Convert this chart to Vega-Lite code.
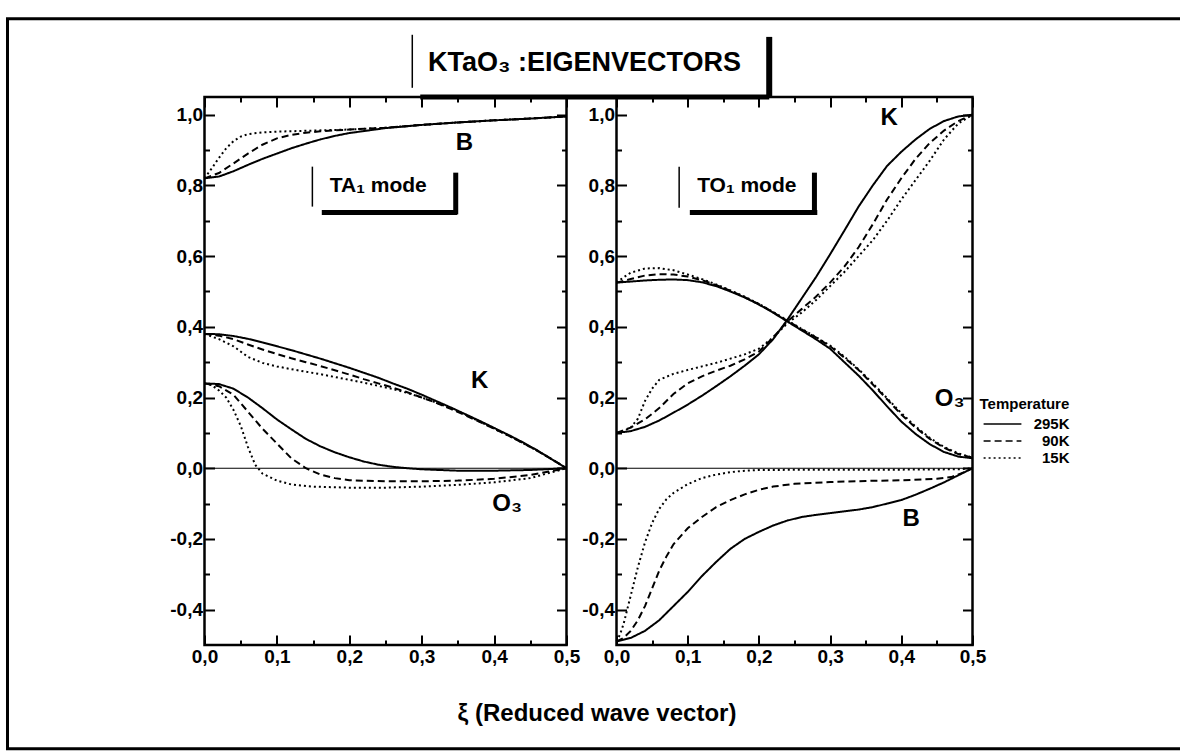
{
  "$schema": "https://vega.github.io/schema/vega-lite/v6.json",
  "padding": {"left": 4.5, "top": 16, "right": 0, "bottom": 0},
  "background": "white",
  "config": {
    "font": "Liberation Sans",
    "view": {"stroke": "black", "strokeWidth": 2.5},
    "axis": {"domain": false, "grid": false, "labelFont": "Liberation Sans", "labelFontWeight": "bold", "labelFontSize": 19, "labelColor": "black", "tickColor": "black", "tickWidth": 2, "labelFlush": false, "labelOverlap": false, "labelBound": false, "title": null}
  },
  "datasets": {
    "ta": [
      {"c":"B","T":"295K","x":0,"y":0.82},{"c":"B","T":"295K","x":0.02,"y":0.825},{"c":"B","T":"295K","x":0.04,"y":0.84},{"c":"B","T":"295K","x":0.06,"y":0.858},{"c":"B","T":"295K","x":0.08,"y":0.875},{"c":"B","T":"295K","x":0.1,"y":0.89},{"c":"B","T":"295K","x":0.12,"y":0.905},{"c":"B","T":"295K","x":0.14,"y":0.918},{"c":"B","T":"295K","x":0.16,"y":0.93},{"c":"B","T":"295K","x":0.18,"y":0.94},{"c":"B","T":"295K","x":0.2,"y":0.948},{"c":"B","T":"295K","x":0.25,"y":0.962},{"c":"B","T":"295K","x":0.3,"y":0.971},{"c":"B","T":"295K","x":0.35,"y":0.978},{"c":"B","T":"295K","x":0.4,"y":0.984},{"c":"B","T":"295K","x":0.45,"y":0.989},{"c":"B","T":"295K","x":0.5,"y":0.995},
      {"c":"B","T":"90K","x":0,"y":0.82},{"c":"B","T":"90K","x":0.02,"y":0.835},{"c":"B","T":"90K","x":0.04,"y":0.862},{"c":"B","T":"90K","x":0.06,"y":0.89},{"c":"B","T":"90K","x":0.08,"y":0.915},{"c":"B","T":"90K","x":0.1,"y":0.933},{"c":"B","T":"90K","x":0.12,"y":0.943},{"c":"B","T":"90K","x":0.14,"y":0.949},{"c":"B","T":"90K","x":0.16,"y":0.953},{"c":"B","T":"90K","x":0.2,"y":0.958},{"c":"B","T":"90K","x":0.25,"y":0.963},{"c":"B","T":"90K","x":0.3,"y":0.971},{"c":"B","T":"90K","x":0.35,"y":0.978},{"c":"B","T":"90K","x":0.4,"y":0.984},{"c":"B","T":"90K","x":0.45,"y":0.989},{"c":"B","T":"90K","x":0.5,"y":0.995},
      {"c":"B","T":"15K","x":0,"y":0.82},{"c":"B","T":"15K","x":0.01,"y":0.848},{"c":"B","T":"15K","x":0.02,"y":0.878},{"c":"B","T":"15K","x":0.03,"y":0.905},{"c":"B","T":"15K","x":0.04,"y":0.925},{"c":"B","T":"15K","x":0.05,"y":0.938},{"c":"B","T":"15K","x":0.06,"y":0.945},{"c":"B","T":"15K","x":0.08,"y":0.95},{"c":"B","T":"15K","x":0.1,"y":0.952},{"c":"B","T":"15K","x":0.15,"y":0.955},{"c":"B","T":"15K","x":0.2,"y":0.958},{"c":"B","T":"15K","x":0.25,"y":0.963},{"c":"B","T":"15K","x":0.3,"y":0.971},{"c":"B","T":"15K","x":0.35,"y":0.978},{"c":"B","T":"15K","x":0.4,"y":0.984},{"c":"B","T":"15K","x":0.45,"y":0.989},{"c":"B","T":"15K","x":0.5,"y":0.995},
      {"c":"K","T":"295K","x":0,"y":0.38},{"c":"K","T":"295K","x":0.02,"y":0.379},{"c":"K","T":"295K","x":0.04,"y":0.374},{"c":"K","T":"295K","x":0.06,"y":0.366},{"c":"K","T":"295K","x":0.08,"y":0.356},{"c":"K","T":"295K","x":0.1,"y":0.345},{"c":"K","T":"295K","x":0.12,"y":0.334},{"c":"K","T":"295K","x":0.14,"y":0.322},{"c":"K","T":"295K","x":0.16,"y":0.31},{"c":"K","T":"295K","x":0.18,"y":0.297},{"c":"K","T":"295K","x":0.2,"y":0.284},{"c":"K","T":"295K","x":0.22,"y":0.27},{"c":"K","T":"295K","x":0.24,"y":0.256},{"c":"K","T":"295K","x":0.26,"y":0.24},{"c":"K","T":"295K","x":0.28,"y":0.225},{"c":"K","T":"295K","x":0.3,"y":0.208},{"c":"K","T":"295K","x":0.32,"y":0.19},{"c":"K","T":"295K","x":0.34,"y":0.172},{"c":"K","T":"295K","x":0.36,"y":0.153},{"c":"K","T":"295K","x":0.38,"y":0.134},{"c":"K","T":"295K","x":0.4,"y":0.114},{"c":"K","T":"295K","x":0.42,"y":0.094},{"c":"K","T":"295K","x":0.44,"y":0.073},{"c":"K","T":"295K","x":0.46,"y":0.05},{"c":"K","T":"295K","x":0.48,"y":0.025},{"c":"K","T":"295K","x":0.5,"y":0},
      {"c":"K","T":"90K","x":0,"y":0.38},{"c":"K","T":"90K","x":0.02,"y":0.375},{"c":"K","T":"90K","x":0.04,"y":0.365},{"c":"K","T":"90K","x":0.06,"y":0.35},{"c":"K","T":"90K","x":0.08,"y":0.336},{"c":"K","T":"90K","x":0.1,"y":0.323},{"c":"K","T":"90K","x":0.12,"y":0.311},{"c":"K","T":"90K","x":0.14,"y":0.3},{"c":"K","T":"90K","x":0.16,"y":0.289},{"c":"K","T":"90K","x":0.18,"y":0.277},{"c":"K","T":"90K","x":0.2,"y":0.265},{"c":"K","T":"90K","x":0.22,"y":0.252},{"c":"K","T":"90K","x":0.24,"y":0.24},{"c":"K","T":"90K","x":0.26,"y":0.228},{"c":"K","T":"90K","x":0.28,"y":0.215},{"c":"K","T":"90K","x":0.3,"y":0.2},{"c":"K","T":"90K","x":0.32,"y":0.185},{"c":"K","T":"90K","x":0.34,"y":0.168},{"c":"K","T":"90K","x":0.36,"y":0.15},{"c":"K","T":"90K","x":0.38,"y":0.131},{"c":"K","T":"90K","x":0.4,"y":0.112},{"c":"K","T":"90K","x":0.42,"y":0.092},{"c":"K","T":"90K","x":0.44,"y":0.071},{"c":"K","T":"90K","x":0.46,"y":0.049},{"c":"K","T":"90K","x":0.48,"y":0.025},{"c":"K","T":"90K","x":0.5,"y":0},
      {"c":"K","T":"15K","x":0,"y":0.38},{"c":"K","T":"15K","x":0.02,"y":0.365},{"c":"K","T":"15K","x":0.04,"y":0.345},{"c":"K","T":"15K","x":0.06,"y":0.315},{"c":"K","T":"15K","x":0.08,"y":0.298},{"c":"K","T":"15K","x":0.1,"y":0.288},{"c":"K","T":"15K","x":0.12,"y":0.28},{"c":"K","T":"15K","x":0.14,"y":0.273},{"c":"K","T":"15K","x":0.16,"y":0.266},{"c":"K","T":"15K","x":0.18,"y":0.258},{"c":"K","T":"15K","x":0.2,"y":0.25},{"c":"K","T":"15K","x":0.22,"y":0.242},{"c":"K","T":"15K","x":0.24,"y":0.233},{"c":"K","T":"15K","x":0.26,"y":0.224},{"c":"K","T":"15K","x":0.28,"y":0.213},{"c":"K","T":"15K","x":0.3,"y":0.2},{"c":"K","T":"15K","x":0.32,"y":0.186},{"c":"K","T":"15K","x":0.34,"y":0.17},{"c":"K","T":"15K","x":0.36,"y":0.152},{"c":"K","T":"15K","x":0.38,"y":0.132},{"c":"K","T":"15K","x":0.4,"y":0.112},{"c":"K","T":"15K","x":0.42,"y":0.092},{"c":"K","T":"15K","x":0.44,"y":0.071},{"c":"K","T":"15K","x":0.46,"y":0.049},{"c":"K","T":"15K","x":0.48,"y":0.025},{"c":"K","T":"15K","x":0.5,"y":0},
      {"c":"O","T":"295K","x":0,"y":0.24},{"c":"O","T":"295K","x":0.02,"y":0.238},{"c":"O","T":"295K","x":0.04,"y":0.225},{"c":"O","T":"295K","x":0.06,"y":0.2},{"c":"O","T":"295K","x":0.08,"y":0.17},{"c":"O","T":"295K","x":0.1,"y":0.138},{"c":"O","T":"295K","x":0.12,"y":0.11},{"c":"O","T":"295K","x":0.14,"y":0.083},{"c":"O","T":"295K","x":0.16,"y":0.062},{"c":"O","T":"295K","x":0.18,"y":0.045},{"c":"O","T":"295K","x":0.2,"y":0.031},{"c":"O","T":"295K","x":0.22,"y":0.019},{"c":"O","T":"295K","x":0.24,"y":0.01},{"c":"O","T":"295K","x":0.26,"y":0.004},{"c":"O","T":"295K","x":0.28,"y":0},{"c":"O","T":"295K","x":0.3,"y":-0.003},{"c":"O","T":"295K","x":0.35,"y":-0.007},{"c":"O","T":"295K","x":0.4,"y":-0.007},{"c":"O","T":"295K","x":0.45,"y":-0.005},{"c":"O","T":"295K","x":0.5,"y":0},
      {"c":"O","T":"90K","x":0,"y":0.24},{"c":"O","T":"90K","x":0.02,"y":0.232},{"c":"O","T":"90K","x":0.04,"y":0.208},{"c":"O","T":"90K","x":0.06,"y":0.16},{"c":"O","T":"90K","x":0.08,"y":0.112},{"c":"O","T":"90K","x":0.1,"y":0.07},{"c":"O","T":"90K","x":0.12,"y":0.028},{"c":"O","T":"90K","x":0.14,"y":0},{"c":"O","T":"90K","x":0.16,"y":-0.018},{"c":"O","T":"90K","x":0.18,"y":-0.028},{"c":"O","T":"90K","x":0.2,"y":-0.034},{"c":"O","T":"90K","x":0.25,"y":-0.037},{"c":"O","T":"90K","x":0.3,"y":-0.037},{"c":"O","T":"90K","x":0.35,"y":-0.035},{"c":"O","T":"90K","x":0.4,"y":-0.03},{"c":"O","T":"90K","x":0.45,"y":-0.019},{"c":"O","T":"90K","x":0.5,"y":0},
      {"c":"O","T":"15K","x":0,"y":0.24},{"c":"O","T":"15K","x":0.01,"y":0.235},{"c":"O","T":"15K","x":0.02,"y":0.22},{"c":"O","T":"15K","x":0.03,"y":0.2},{"c":"O","T":"15K","x":0.04,"y":0.165},{"c":"O","T":"15K","x":0.05,"y":0.12},{"c":"O","T":"15K","x":0.06,"y":0.06},{"c":"O","T":"15K","x":0.07,"y":0.01},{"c":"O","T":"15K","x":0.08,"y":-0.015},{"c":"O","T":"15K","x":0.1,"y":-0.035},{"c":"O","T":"15K","x":0.12,"y":-0.046},{"c":"O","T":"15K","x":0.15,"y":-0.052},{"c":"O","T":"15K","x":0.2,"y":-0.055},{"c":"O","T":"15K","x":0.25,"y":-0.055},{"c":"O","T":"15K","x":0.3,"y":-0.052},{"c":"O","T":"15K","x":0.35,"y":-0.047},{"c":"O","T":"15K","x":0.4,"y":-0.04},{"c":"O","T":"15K","x":0.45,"y":-0.028},{"c":"O","T":"15K","x":0.5,"y":0}
    ],
    "to": [
      {"c":"K","T":"295K","x":0,"y":0.1},{"c":"K","T":"295K","x":0.02,"y":0.105},{"c":"K","T":"295K","x":0.04,"y":0.117},{"c":"K","T":"295K","x":0.06,"y":0.135},{"c":"K","T":"295K","x":0.08,"y":0.157},{"c":"K","T":"295K","x":0.1,"y":0.18},{"c":"K","T":"295K","x":0.12,"y":0.205},{"c":"K","T":"295K","x":0.14,"y":0.232},{"c":"K","T":"295K","x":0.16,"y":0.26},{"c":"K","T":"295K","x":0.18,"y":0.29},{"c":"K","T":"295K","x":0.2,"y":0.322},{"c":"K","T":"295K","x":0.22,"y":0.365},{"c":"K","T":"295K","x":0.24,"y":0.42},{"c":"K","T":"295K","x":0.26,"y":0.48},{"c":"K","T":"295K","x":0.28,"y":0.54},{"c":"K","T":"295K","x":0.3,"y":0.605},{"c":"K","T":"295K","x":0.32,"y":0.672},{"c":"K","T":"295K","x":0.34,"y":0.74},{"c":"K","T":"295K","x":0.36,"y":0.8},{"c":"K","T":"295K","x":0.38,"y":0.855},{"c":"K","T":"295K","x":0.4,"y":0.895},{"c":"K","T":"295K","x":0.42,"y":0.93},{"c":"K","T":"295K","x":0.44,"y":0.96},{"c":"K","T":"295K","x":0.46,"y":0.982},{"c":"K","T":"295K","x":0.48,"y":0.995},{"c":"K","T":"295K","x":0.5,"y":1},
      {"c":"K","T":"90K","x":0,"y":0.1},{"c":"K","T":"90K","x":0.02,"y":0.115},{"c":"K","T":"90K","x":0.04,"y":0.138},{"c":"K","T":"90K","x":0.06,"y":0.17},{"c":"K","T":"90K","x":0.08,"y":0.21},{"c":"K","T":"90K","x":0.1,"y":0.24},{"c":"K","T":"90K","x":0.12,"y":0.26},{"c":"K","T":"90K","x":0.14,"y":0.276},{"c":"K","T":"90K","x":0.16,"y":0.29},{"c":"K","T":"90K","x":0.18,"y":0.308},{"c":"K","T":"90K","x":0.2,"y":0.33},{"c":"K","T":"90K","x":0.22,"y":0.37},{"c":"K","T":"90K","x":0.24,"y":0.415},{"c":"K","T":"90K","x":0.26,"y":0.45},{"c":"K","T":"90K","x":0.28,"y":0.485},{"c":"K","T":"90K","x":0.3,"y":0.525},{"c":"K","T":"90K","x":0.32,"y":0.57},{"c":"K","T":"90K","x":0.34,"y":0.625},{"c":"K","T":"90K","x":0.36,"y":0.69},{"c":"K","T":"90K","x":0.38,"y":0.76},{"c":"K","T":"90K","x":0.4,"y":0.82},{"c":"K","T":"90K","x":0.42,"y":0.875},{"c":"K","T":"90K","x":0.44,"y":0.92},{"c":"K","T":"90K","x":0.46,"y":0.955},{"c":"K","T":"90K","x":0.48,"y":0.982},{"c":"K","T":"90K","x":0.5,"y":1},
      {"c":"K","T":"15K","x":0,"y":0.1},{"c":"K","T":"15K","x":0.01,"y":0.105},{"c":"K","T":"15K","x":0.02,"y":0.115},{"c":"K","T":"15K","x":0.03,"y":0.14},{"c":"K","T":"15K","x":0.04,"y":0.19},{"c":"K","T":"15K","x":0.05,"y":0.225},{"c":"K","T":"15K","x":0.06,"y":0.25},{"c":"K","T":"15K","x":0.08,"y":0.267},{"c":"K","T":"15K","x":0.1,"y":0.278},{"c":"K","T":"15K","x":0.12,"y":0.288},{"c":"K","T":"15K","x":0.14,"y":0.298},{"c":"K","T":"15K","x":0.16,"y":0.31},{"c":"K","T":"15K","x":0.18,"y":0.322},{"c":"K","T":"15K","x":0.2,"y":0.338},{"c":"K","T":"15K","x":0.22,"y":0.37},{"c":"K","T":"15K","x":0.24,"y":0.41},{"c":"K","T":"15K","x":0.26,"y":0.44},{"c":"K","T":"15K","x":0.28,"y":0.475},{"c":"K","T":"15K","x":0.3,"y":0.515},{"c":"K","T":"15K","x":0.32,"y":0.555},{"c":"K","T":"15K","x":0.34,"y":0.6},{"c":"K","T":"15K","x":0.36,"y":0.645},{"c":"K","T":"15K","x":0.38,"y":0.7},{"c":"K","T":"15K","x":0.4,"y":0.76},{"c":"K","T":"15K","x":0.42,"y":0.815},{"c":"K","T":"15K","x":0.44,"y":0.87},{"c":"K","T":"15K","x":0.46,"y":0.93},{"c":"K","T":"15K","x":0.48,"y":0.975},{"c":"K","T":"15K","x":0.5,"y":1},
      {"c":"O","T":"295K","x":0,"y":0.525},{"c":"O","T":"295K","x":0.02,"y":0.528},{"c":"O","T":"295K","x":0.04,"y":0.531},{"c":"O","T":"295K","x":0.06,"y":0.533},{"c":"O","T":"295K","x":0.08,"y":0.534},{"c":"O","T":"295K","x":0.1,"y":0.532},{"c":"O","T":"295K","x":0.12,"y":0.526},{"c":"O","T":"295K","x":0.14,"y":0.515},{"c":"O","T":"295K","x":0.16,"y":0.5},{"c":"O","T":"295K","x":0.18,"y":0.483},{"c":"O","T":"295K","x":0.2,"y":0.463},{"c":"O","T":"295K","x":0.22,"y":0.44},{"c":"O","T":"295K","x":0.24,"y":0.415},{"c":"O","T":"295K","x":0.26,"y":0.39},{"c":"O","T":"295K","x":0.28,"y":0.365},{"c":"O","T":"295K","x":0.3,"y":0.338},{"c":"O","T":"295K","x":0.32,"y":0.3},{"c":"O","T":"295K","x":0.34,"y":0.262},{"c":"O","T":"295K","x":0.36,"y":0.22},{"c":"O","T":"295K","x":0.38,"y":0.175},{"c":"O","T":"295K","x":0.4,"y":0.132},{"c":"O","T":"295K","x":0.42,"y":0.097},{"c":"O","T":"295K","x":0.44,"y":0.068},{"c":"O","T":"295K","x":0.46,"y":0.046},{"c":"O","T":"295K","x":0.48,"y":0.033},{"c":"O","T":"295K","x":0.5,"y":0.028},
      {"c":"O","T":"90K","x":0,"y":0.525},{"c":"O","T":"90K","x":0.02,"y":0.535},{"c":"O","T":"90K","x":0.04,"y":0.545},{"c":"O","T":"90K","x":0.06,"y":0.549},{"c":"O","T":"90K","x":0.08,"y":0.548},{"c":"O","T":"90K","x":0.1,"y":0.542},{"c":"O","T":"90K","x":0.12,"y":0.532},{"c":"O","T":"90K","x":0.14,"y":0.518},{"c":"O","T":"90K","x":0.16,"y":0.502},{"c":"O","T":"90K","x":0.18,"y":0.484},{"c":"O","T":"90K","x":0.2,"y":0.464},{"c":"O","T":"90K","x":0.22,"y":0.441},{"c":"O","T":"90K","x":0.24,"y":0.417},{"c":"O","T":"90K","x":0.26,"y":0.393},{"c":"O","T":"90K","x":0.28,"y":0.37},{"c":"O","T":"90K","x":0.3,"y":0.345},{"c":"O","T":"90K","x":0.32,"y":0.313},{"c":"O","T":"90K","x":0.34,"y":0.278},{"c":"O","T":"90K","x":0.36,"y":0.237},{"c":"O","T":"90K","x":0.38,"y":0.195},{"c":"O","T":"90K","x":0.4,"y":0.152},{"c":"O","T":"90K","x":0.42,"y":0.115},{"c":"O","T":"90K","x":0.44,"y":0.083},{"c":"O","T":"90K","x":0.46,"y":0.058},{"c":"O","T":"90K","x":0.48,"y":0.04},{"c":"O","T":"90K","x":0.5,"y":0.03},
      {"c":"O","T":"15K","x":0,"y":0.525},{"c":"O","T":"15K","x":0.01,"y":0.54},{"c":"O","T":"15K","x":0.02,"y":0.553},{"c":"O","T":"15K","x":0.04,"y":0.565},{"c":"O","T":"15K","x":0.06,"y":0.566},{"c":"O","T":"15K","x":0.08,"y":0.56},{"c":"O","T":"15K","x":0.1,"y":0.548},{"c":"O","T":"15K","x":0.12,"y":0.535},{"c":"O","T":"15K","x":0.14,"y":0.52},{"c":"O","T":"15K","x":0.16,"y":0.503},{"c":"O","T":"15K","x":0.18,"y":0.485},{"c":"O","T":"15K","x":0.2,"y":0.465},{"c":"O","T":"15K","x":0.22,"y":0.442},{"c":"O","T":"15K","x":0.24,"y":0.418},{"c":"O","T":"15K","x":0.26,"y":0.394},{"c":"O","T":"15K","x":0.28,"y":0.371},{"c":"O","T":"15K","x":0.3,"y":0.347},{"c":"O","T":"15K","x":0.32,"y":0.316},{"c":"O","T":"15K","x":0.34,"y":0.28},{"c":"O","T":"15K","x":0.36,"y":0.24},{"c":"O","T":"15K","x":0.38,"y":0.198},{"c":"O","T":"15K","x":0.4,"y":0.156},{"c":"O","T":"15K","x":0.42,"y":0.118},{"c":"O","T":"15K","x":0.44,"y":0.086},{"c":"O","T":"15K","x":0.46,"y":0.06},{"c":"O","T":"15K","x":0.48,"y":0.042},{"c":"O","T":"15K","x":0.5,"y":0.03},
      {"c":"B","T":"295K","x":0,"y":-0.49},{"c":"B","T":"295K","x":0.02,"y":-0.48},{"c":"B","T":"295K","x":0.04,"y":-0.46},{"c":"B","T":"295K","x":0.06,"y":-0.43},{"c":"B","T":"295K","x":0.08,"y":-0.39},{"c":"B","T":"295K","x":0.1,"y":-0.35},{"c":"B","T":"295K","x":0.12,"y":-0.305},{"c":"B","T":"295K","x":0.14,"y":-0.265},{"c":"B","T":"295K","x":0.16,"y":-0.228},{"c":"B","T":"295K","x":0.18,"y":-0.2},{"c":"B","T":"295K","x":0.2,"y":-0.18},{"c":"B","T":"295K","x":0.22,"y":-0.162},{"c":"B","T":"295K","x":0.24,"y":-0.148},{"c":"B","T":"295K","x":0.26,"y":-0.138},{"c":"B","T":"295K","x":0.28,"y":-0.132},{"c":"B","T":"295K","x":0.3,"y":-0.127},{"c":"B","T":"295K","x":0.32,"y":-0.122},{"c":"B","T":"295K","x":0.34,"y":-0.117},{"c":"B","T":"295K","x":0.36,"y":-0.11},{"c":"B","T":"295K","x":0.38,"y":-0.1},{"c":"B","T":"295K","x":0.4,"y":-0.09},{"c":"B","T":"295K","x":0.42,"y":-0.075},{"c":"B","T":"295K","x":0.44,"y":-0.058},{"c":"B","T":"295K","x":0.46,"y":-0.04},{"c":"B","T":"295K","x":0.48,"y":-0.02},{"c":"B","T":"295K","x":0.5,"y":0},
      {"c":"B","T":"90K","x":0,"y":-0.49},{"c":"B","T":"90K","x":0.01,"y":-0.48},{"c":"B","T":"90K","x":0.02,"y":-0.46},{"c":"B","T":"90K","x":0.03,"y":-0.43},{"c":"B","T":"90K","x":0.04,"y":-0.39},{"c":"B","T":"90K","x":0.05,"y":-0.34},{"c":"B","T":"90K","x":0.06,"y":-0.29},{"c":"B","T":"90K","x":0.07,"y":-0.25},{"c":"B","T":"90K","x":0.08,"y":-0.215},{"c":"B","T":"90K","x":0.1,"y":-0.17},{"c":"B","T":"90K","x":0.12,"y":-0.138},{"c":"B","T":"90K","x":0.14,"y":-0.11},{"c":"B","T":"90K","x":0.16,"y":-0.09},{"c":"B","T":"90K","x":0.18,"y":-0.074},{"c":"B","T":"90K","x":0.2,"y":-0.061},{"c":"B","T":"90K","x":0.22,"y":-0.052},{"c":"B","T":"90K","x":0.25,"y":-0.044},{"c":"B","T":"90K","x":0.3,"y":-0.039},{"c":"B","T":"90K","x":0.35,"y":-0.036},{"c":"B","T":"90K","x":0.4,"y":-0.034},{"c":"B","T":"90K","x":0.45,"y":-0.03},{"c":"B","T":"90K","x":0.47,"y":-0.025},{"c":"B","T":"90K","x":0.49,"y":-0.01},{"c":"B","T":"90K","x":0.5,"y":0},
      {"c":"B","T":"15K","x":0,"y":-0.49},{"c":"B","T":"15K","x":0.005,"y":-0.47},{"c":"B","T":"15K","x":0.01,"y":-0.44},{"c":"B","T":"15K","x":0.02,"y":-0.36},{"c":"B","T":"15K","x":0.03,"y":-0.28},{"c":"B","T":"15K","x":0.04,"y":-0.21},{"c":"B","T":"15K","x":0.05,"y":-0.155},{"c":"B","T":"15K","x":0.06,"y":-0.115},{"c":"B","T":"15K","x":0.07,"y":-0.088},{"c":"B","T":"15K","x":0.08,"y":-0.07},{"c":"B","T":"15K","x":0.1,"y":-0.045},{"c":"B","T":"15K","x":0.12,"y":-0.028},{"c":"B","T":"15K","x":0.14,"y":-0.018},{"c":"B","T":"15K","x":0.16,"y":-0.011},{"c":"B","T":"15K","x":0.18,"y":-0.007},{"c":"B","T":"15K","x":0.2,"y":-0.005},{"c":"B","T":"15K","x":0.3,"y":-0.004},{"c":"B","T":"15K","x":0.4,"y":-0.004},{"c":"B","T":"15K","x":0.48,"y":-0.003},{"c":"B","T":"15K","x":0.5,"y":0}
    ],
    "zero": [{"x": 0, "y": 0}, {"x": 0.5, "y": 0}],
    "one": [{}]
  },
  "spacing": 50,
  "bounds": "flush",
  "hconcat": [
    {
      "width": 362,
      "height": 548,
      "resolve": {"axis": {"x": "independent", "y": "independent"}},
      "layer": [
        {
          "data": {"name": "zero"},
          "mark": {"type": "line", "strokeWidth": 1.2, "color": "black"},
          "encoding": {
            "x": {"field": "x", "type": "quantitative", "scale": {"domain": [0, 0.5], "nice": false, "zero": false}, "axis": {"orient": "top", "labels": false, "values": [0,0.1,0.2,0.3,0.4,0.5], "tickSize": -10}},
            "y": {"field": "y", "type": "quantitative", "scale": {"domain": [-0.5, 1.05], "nice": false, "zero": false}, "axis": {"orient": "right", "labels": false, "values": [-0.4,-0.2,0,0.2,0.4,0.6,0.8,1.0], "tickSize": -10}}
          }
        },
        {
          "data": {"name": "zero"},
          "mark": {"type": "line", "opacity": 0},
          "encoding": {
            "x": {"field": "x", "type": "quantitative", "axis": {"orient": "top", "labels": false, "values": [0.05,0.15,0.25,0.35,0.45], "tickSize": -5}},
            "y": {"field": "y", "type": "quantitative", "axis": {"orient": "right", "labels": false, "values": [-0.3,-0.1,0.1,0.3,0.5,0.7,0.9], "tickSize": -5}}
          }
        },
        {
          "data": {"name": "zero"},
          "mark": {"type": "line", "opacity": 0},
          "encoding": {
            "x": {"field": "x", "type": "quantitative", "axis": {"orient": "bottom", "labels": false, "values": [0.05,0.15,0.25,0.35,0.45], "tickSize": -5}},
            "y": {"field": "y", "type": "quantitative", "axis": {"orient": "left", "labels": false, "values": [-0.3,-0.1,0.1,0.3,0.5,0.7,0.9], "tickSize": -5}}
          }
        },
        {
          "data": {"name": "ta"},
          "mark": {"type": "line", "strokeWidth": 2, "color": "black"},
          "encoding": {
            "x": {"field": "x", "type": "quantitative", "scale": {"domain": [0, 0.5], "nice": false, "zero": false}, "axis": {"orient": "bottom", "values": [0,0.1,0.2,0.3,0.4,0.5], "labelExpr": "replace(format(datum.value,'.1f'),'.',',')", "labelPadding": 12, "tickSize": -10, "title": "ξ (Reduced wave vector)", "titleX": 392, "titleY": 75, "titleAlign": "center", "titleBaseline": "alphabetic", "titleFont": "Liberation Sans", "titleFontSize": 24, "titleFontWeight": "bold", "titleColor": "black"}},
            "y": {"field": "y", "type": "quantitative", "scale": {"domain": [-0.5, 1.05], "nice": false, "zero": false}, "axis": {"orient": "left", "values": [-0.4,-0.2,0,0.2,0.4,0.6,0.8,1.0], "labelExpr": "replace(replace(format(datum.value,'.1f'),'.',','),'−','-')", "labelPadding": 12, "tickSize": -10}},
            "strokeDash": {"field": "T", "type": "nominal", "scale": {"domain": ["295K", "90K", "15K"], "range": [[1, 0], [7, 4], [2, 3]]}, "legend": {"title": "Temperature", "orient": "none", "legendX": 775, "legendY": 300, "symbolType": "M-2.7,0H2.7", "symbolSize": 196, "symbolOffset": 15, "symbolStrokeWidth": 1.6, "symbolStrokeColor": "black", "symbolFillColor": "transparent", "titleFont": "Liberation Sans", "titleFontSize": 15, "titleFontWeight": "bold", "titleColor": "black", "labelFont": "Liberation Sans", "labelFontSize": 15, "labelFontWeight": "bold", "labelColor": "black", "labelAlign": "right", "rowPadding": 1, "labelOffset": 59, "titlePadding": 4}},
            "detail": {"field": "c"}
          }
        },
        {
          "data": {"name": "one"},
          "mark": {"type": "rect", "fill": null, "fillOpacity": 0, "stroke": "black", "strokeWidth": 3},
          "encoding": {"x": {"datum": -0.2721, "type": "quantitative", "axis": null}, "x2": {"datum": 1.3536}, "y": {"datum": 1.2712, "type": "quantitative", "axis": null}, "y2": {"datum": -0.7938}}
        },
        {
          "data": {"values": [{"x": 0.359, "y": 0.92, "t": "B"}, {"x": 0.38, "y": 0.246, "t": "K"}, {"x": 0.418, "y": -0.1, "t": "O₃"}]},
          "mark": {"type": "text", "font": "Liberation Sans", "fontWeight": "bold", "fontSize": 24, "color": "black"},
          "encoding": {"x": {"field": "x", "type": "quantitative", "axis": null}, "y": {"field": "y", "type": "quantitative", "axis": null}, "text": {"field": "t"}}
        },
        {
          "data": {"values": [{"x": 0.24, "y": 0.797, "t": "TA₁ mode"}]},
          "mark": {"type": "text", "font": "Liberation Sans", "fontWeight": "bold", "fontSize": 21, "color": "black"},
          "encoding": {"x": {"field": "x", "type": "quantitative", "axis": null}, "y": {"field": "y", "type": "quantitative", "axis": null}, "text": {"field": "t"}}
        },
        {
          "data": {"values": [{"x": 0.525, "y": 1.147, "t": "KTaO₃ :EIGENVECTORS"}]},
          "mark": {"type": "text", "font": "Liberation Sans", "fontWeight": "bold", "fontSize": 27, "color": "black"},
          "encoding": {"x": {"field": "x", "type": "quantitative", "axis": null}, "y": {"field": "y", "type": "quantitative", "axis": null}, "text": {"field": "t"}}
        },
        {"data": {"name": "one"}, "mark": {"type": "rule", "strokeWidth": 1.5, "color": "black"}, "encoding": {"x": {"datum": 0.149, "type": "quantitative", "axis": null}, "y": {"datum": 0.853, "type": "quantitative", "axis": null}, "y2": {"datum": 0.74}}},
        {"data": {"name": "one"}, "mark": {"type": "rule", "strokeWidth": 5, "color": "black"}, "encoding": {"x": {"datum": 0.347, "type": "quantitative", "axis": null}, "y": {"datum": 0.836, "type": "quantitative", "axis": null}, "y2": {"datum": 0.718}}},
        {"data": {"name": "one"}, "mark": {"type": "rule", "strokeWidth": 5, "color": "black"}, "encoding": {"x": {"datum": 0.162, "type": "quantitative", "axis": null}, "x2": {"datum": 0.349}, "y": {"datum": 0.723, "type": "quantitative", "axis": null}}},
        {"data": {"name": "one"}, "mark": {"type": "rule", "strokeWidth": 1.5, "color": "black"}, "encoding": {"x": {"datum": 0.287, "type": "quantitative", "axis": null}, "y": {"datum": 1.226, "type": "quantitative", "axis": null}, "y2": {"datum": 1.076}}},
        {"data": {"name": "one"}, "mark": {"type": "rule", "strokeWidth": 6, "color": "black"}, "encoding": {"x": {"datum": 0.78, "type": "quantitative", "axis": null}, "y": {"datum": 1.22, "type": "quantitative", "axis": null}, "y2": {"datum": 1.05}}},
        {"data": {"name": "one"}, "mark": {"type": "rule", "strokeWidth": 5, "color": "black"}, "encoding": {"x": {"datum": 0.298, "type": "quantitative", "axis": null}, "x2": {"datum": 0.78}, "y": {"datum": 1.05, "type": "quantitative", "axis": null}}}
      ]
    },
    {
      "width": 356,
      "height": 548,
      "resolve": {"axis": {"x": "independent", "y": "independent"}},
      "layer": [
        {
          "data": {"name": "zero"},
          "mark": {"type": "line", "strokeWidth": 1.2, "color": "black"},
          "encoding": {
            "x": {"field": "x", "type": "quantitative", "scale": {"domain": [0, 0.5], "nice": false, "zero": false}, "axis": {"orient": "top", "labels": false, "values": [0,0.1,0.2,0.3,0.4,0.5], "tickSize": -10}},
            "y": {"field": "y", "type": "quantitative", "scale": {"domain": [-0.5, 1.05], "nice": false, "zero": false}, "axis": {"orient": "right", "labels": false, "values": [-0.4,-0.2,0,0.2,0.4,0.6,0.8,1.0], "tickSize": -10}}
          }
        },
        {
          "data": {"name": "zero"},
          "mark": {"type": "line", "opacity": 0},
          "encoding": {
            "x": {"field": "x", "type": "quantitative", "axis": {"orient": "top", "labels": false, "values": [0.05,0.15,0.25,0.35,0.45], "tickSize": -5}},
            "y": {"field": "y", "type": "quantitative", "axis": {"orient": "right", "labels": false, "values": [-0.3,-0.1,0.1,0.3,0.5,0.7,0.9], "tickSize": -5}}
          }
        },
        {
          "data": {"name": "zero"},
          "mark": {"type": "line", "opacity": 0},
          "encoding": {
            "x": {"field": "x", "type": "quantitative", "axis": {"orient": "bottom", "labels": false, "values": [0.05,0.15,0.25,0.35,0.45], "tickSize": -5}},
            "y": {"field": "y", "type": "quantitative", "axis": {"orient": "left", "labels": false, "values": [-0.3,-0.1,0.1,0.3,0.5,0.7,0.9], "tickSize": -5}}
          }
        },
        {
          "data": {"name": "to"},
          "mark": {"type": "line", "strokeWidth": 2, "color": "black"},
          "encoding": {
            "x": {"field": "x", "type": "quantitative", "scale": {"domain": [0, 0.5], "nice": false, "zero": false}, "axis": {"orient": "bottom", "values": [0,0.1,0.2,0.3,0.4,0.5], "labelExpr": "replace(format(datum.value,'.1f'),'.',',')", "labelPadding": 12, "tickSize": -10}},
            "y": {"field": "y", "type": "quantitative", "scale": {"domain": [-0.5, 1.05], "nice": false, "zero": false}, "axis": {"orient": "left", "values": [-0.4,-0.2,0,0.2,0.4,0.6,0.8,1.0], "labelExpr": "replace(replace(format(datum.value,'.1f'),'.',','),'−','-')", "labelPadding": 12, "tickSize": -10}},
            "strokeDash": {"field": "T", "type": "nominal", "scale": {"domain": ["295K", "90K", "15K"], "range": [[1, 0], [7, 4], [2, 3]]}, "legend": {"title": "Temperature", "orient": "none", "legendX": 775, "legendY": 300, "symbolType": "M-2.7,0H2.7", "symbolSize": 196, "symbolOffset": 15, "symbolStrokeWidth": 1.6, "symbolStrokeColor": "black", "symbolFillColor": "transparent", "titleFont": "Liberation Sans", "titleFontSize": 15, "titleFontWeight": "bold", "titleColor": "black", "labelFont": "Liberation Sans", "labelFontSize": 15, "labelFontWeight": "bold", "labelColor": "black", "labelAlign": "right", "rowPadding": 1, "labelOffset": 59, "titlePadding": 4}},
            "detail": {"field": "c"}
          }
        },
        {
          "data": {"values": [{"x": 0.383, "y": 0.99, "t": "K"}, {"x": 0.468, "y": 0.195, "t": "O₃"}, {"x": 0.414, "y": -0.144, "t": "B"}]},
          "mark": {"type": "text", "font": "Liberation Sans", "fontWeight": "bold", "fontSize": 24, "color": "black"},
          "encoding": {"x": {"field": "x", "type": "quantitative", "axis": null}, "y": {"field": "y", "type": "quantitative", "axis": null}, "text": {"field": "t"}}
        },
        {
          "data": {"values": [{"x": 0.183, "y": 0.797, "t": "TO₁ mode"}]},
          "mark": {"type": "text", "font": "Liberation Sans", "fontWeight": "bold", "fontSize": 21, "color": "black"},
          "encoding": {"x": {"field": "x", "type": "quantitative", "axis": null}, "y": {"field": "y", "type": "quantitative", "axis": null}, "text": {"field": "t"}}
        },
        {"data": {"name": "one"}, "mark": {"type": "rule", "strokeWidth": 1.5, "color": "black"}, "encoding": {"x": {"datum": 0.088, "type": "quantitative", "axis": null}, "y": {"datum": 0.853, "type": "quantitative", "axis": null}, "y2": {"datum": 0.737}}},
        {"data": {"name": "one"}, "mark": {"type": "rule", "strokeWidth": 5, "color": "black"}, "encoding": {"x": {"datum": 0.278, "type": "quantitative", "axis": null}, "y": {"datum": 0.836, "type": "quantitative", "axis": null}, "y2": {"datum": 0.718}}},
        {"data": {"name": "one"}, "mark": {"type": "rule", "strokeWidth": 5, "color": "black"}, "encoding": {"x": {"datum": 0.103, "type": "quantitative", "axis": null}, "x2": {"datum": 0.282}, "y": {"datum": 0.723, "type": "quantitative", "axis": null}}}
      ]
    }
  ],
  "resolve": {"scale": {"strokeDash": "shared"}, "legend": {"strokeDash": "shared"}}
}
